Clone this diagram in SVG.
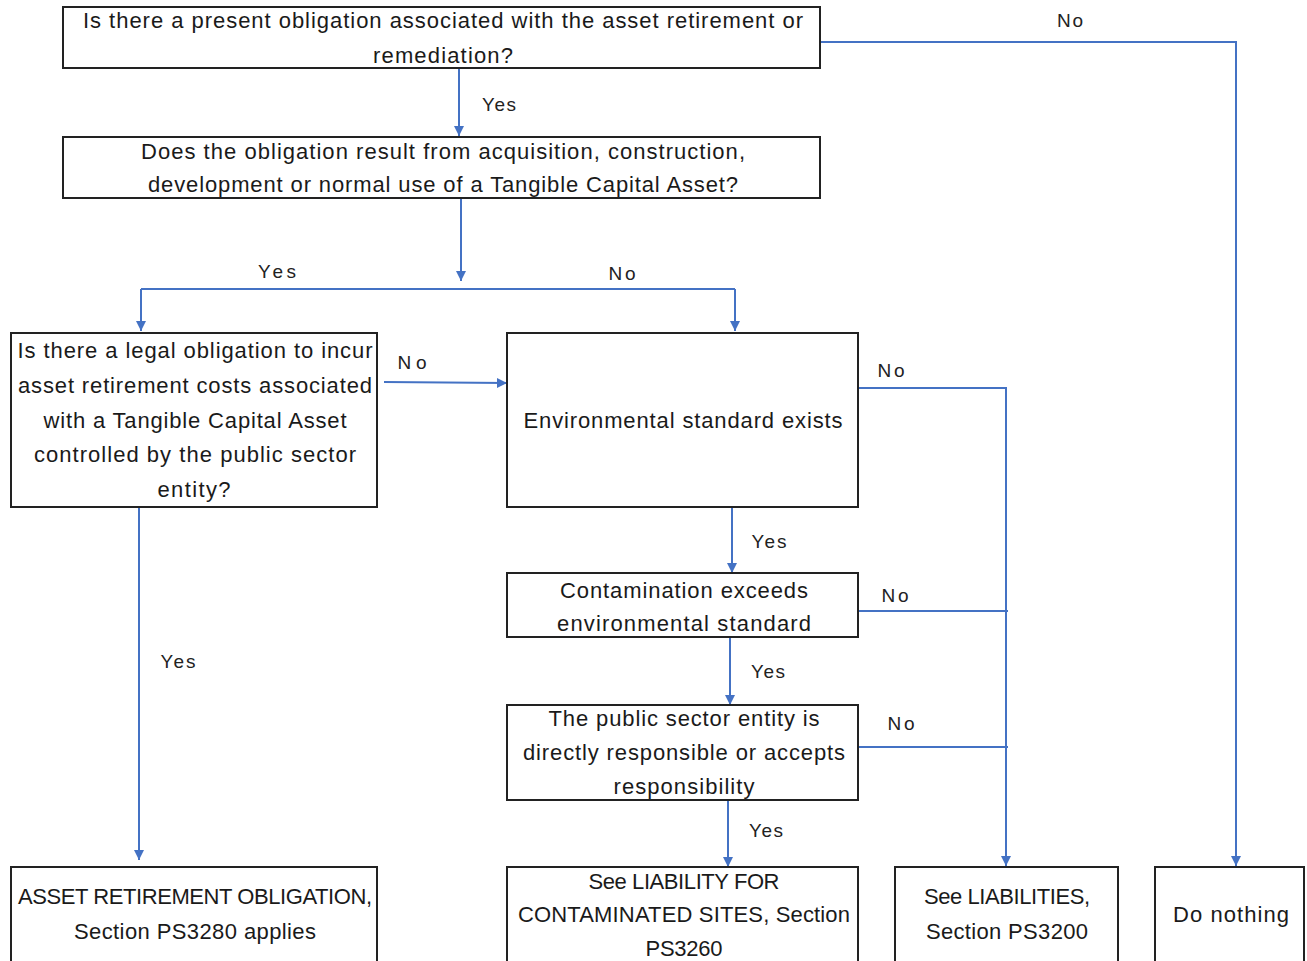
<svg xmlns="http://www.w3.org/2000/svg" width="1307" height="961" viewBox="0 0 1307 961">
<style>
.box{fill:#fff;stroke:#222;stroke-width:2}
.t{font-family:"Liberation Sans",Arial,sans-serif;font-size:22px;fill:#1a1a1a;text-anchor:middle}
.l{font-family:"Liberation Sans",Arial,sans-serif;font-size:19px;fill:#222;text-anchor:middle}
.c{fill:none;stroke:#4472C4;stroke-width:2}
</style>
<defs>
<marker id="ah" viewBox="0 0 10 10" refX="10" refY="5" markerWidth="10" markerHeight="11" orient="auto" markerUnits="userSpaceOnUse">
<path d="M0,0 L10,5 L0,10 z" fill="#4472C4"/>
</marker>
</defs>
<rect width="1307" height="961" fill="#fff"/>
<g id="connectors">
<path class="c" d="M459,68 V136" marker-end="url(#ah)"/>
<path class="c" d="M461,198 V281" marker-end="url(#ah)"/>
<path class="c" d="M141,289 H735"/>
<path class="c" d="M141,289 V331" marker-end="url(#ah)"/>
<path class="c" d="M735,289 V331" marker-end="url(#ah)"/>
<path class="c" d="M384,382 L507,383" marker-end="url(#ah)"/>
<path class="c" d="M858,388 H1006 V866" marker-end="url(#ah)"/>
<path class="c" d="M858,611 H1008"/>
<path class="c" d="M858,747 H1008"/>
<path class="c" d="M732,507 V573" marker-end="url(#ah)"/>
<path class="c" d="M730,637 V705" marker-end="url(#ah)"/>
<path class="c" d="M728,800 V867" marker-end="url(#ah)"/>
<path class="c" d="M139,507 V860" marker-end="url(#ah)"/>
<path class="c" d="M820,42 H1236 V866" marker-end="url(#ah)"/>
<text class="l" x="499" y="111" textLength="34" lengthAdjust="spacing">Yes</text>
<text class="l" x="277" y="278" textLength="38" lengthAdjust="spacing">Yes</text>
<text class="l" x="622" y="280" textLength="27" lengthAdjust="spacing">No</text>
<text class="l" x="412" y="369" textLength="29" lengthAdjust="spacing">No</text>
<text class="l" x="891" y="377" textLength="27" lengthAdjust="spacing">No</text>
<text class="l" x="769" y="548" textLength="35" lengthAdjust="spacing">Yes</text>
<text class="l" x="895" y="602" textLength="27" lengthAdjust="spacing">No</text>
<text class="l" x="768" y="678" textLength="34" lengthAdjust="spacing">Yes</text>
<text class="l" x="901" y="730" textLength="27" lengthAdjust="spacing">No</text>
<text class="l" x="766" y="837" textLength="34" lengthAdjust="spacing">Yes</text>
<text class="l" x="178" y="668" textLength="35" lengthAdjust="spacing">Yes</text>
<text class="l" x="1070" y="27" textLength="26" lengthAdjust="spacing">No</text>
</g>
<g id="n1">
<rect class="box" x="63" y="7" width="757" height="61"/>
<text class="t" x="443" y="28" textLength="720" lengthAdjust="spacing">Is there a present obligation associated with the asset retirement or</text>
<text class="t" x="443" y="63" textLength="140" lengthAdjust="spacing">remediation?</text>
</g>
<g id="n2">
<rect class="box" x="63" y="137" width="757" height="61"/>
<text class="t" x="443" y="159" textLength="604" lengthAdjust="spacing">Does the obligation result from acquisition, construction,</text>
<text class="t" x="443" y="192" textLength="590" lengthAdjust="spacing">development or normal use of a Tangible Capital Asset?</text>
</g>
<g id="n3">
<rect class="box" x="11" y="333" width="366" height="174"/>
<text class="t" x="195" y="358" textLength="355" lengthAdjust="spacing">Is there a legal obligation to incur</text>
<text class="t" x="195" y="393" textLength="354" lengthAdjust="spacing">asset retirement costs associated</text>
<text class="t" x="195" y="428" textLength="303" lengthAdjust="spacing">with a Tangible Capital Asset</text>
<text class="t" x="195" y="462" textLength="322" lengthAdjust="spacing">controlled by the public sector</text>
<text class="t" x="194" y="497" textLength="73" lengthAdjust="spacing">entity?</text>
</g>
<g id="n4">
<rect class="box" x="507" y="333" width="351" height="174"/>
<text class="t" x="683" y="428" textLength="319" lengthAdjust="spacing">Environmental standard exists</text>
</g>
<g id="n5">
<rect class="box" x="507" y="573" width="351" height="64"/>
<text class="t" x="684" y="598" textLength="248" lengthAdjust="spacing">Contamination exceeds</text>
<text class="t" x="684" y="631" textLength="254" lengthAdjust="spacing">environmental standard</text>
</g>
<g id="n6">
<rect class="box" x="507" y="705" width="351" height="95"/>
<text class="t" x="684" y="726" textLength="271" lengthAdjust="spacing">The public sector entity is</text>
<text class="t" x="684" y="760" textLength="322" lengthAdjust="spacing">directly responsible or accepts</text>
<text class="t" x="684" y="794" textLength="141" lengthAdjust="spacing">responsibility</text>
</g>
<g id="n7">
<rect class="box" x="11" y="867" width="366" height="100"/>
<text class="t" x="195" y="904" textLength="354" lengthAdjust="spacing">ASSET RETIREMENT OBLIGATION,</text>
<text class="t" x="195" y="939" textLength="242" lengthAdjust="spacing">Section PS3280 applies</text>
</g>
<g id="n8">
<rect class="box" x="507" y="867" width="351" height="100"/>
<text class="t" x="684" y="889" textLength="191" lengthAdjust="spacing">See LIABILITY FOR</text>
<text class="t" x="684" y="922" textLength="332" lengthAdjust="spacing">CONTAMINATED SITES, Section</text>
<text class="t" x="684" y="956" textLength="77" lengthAdjust="spacing">PS3260</text>
</g>
<g id="n9">
<rect class="box" x="895" y="867" width="223" height="100"/>
<text class="t" x="1007" y="904" textLength="166" lengthAdjust="spacing">See LIABILITIES,</text>
<text class="t" x="1007" y="939" textLength="162" lengthAdjust="spacing">Section PS3200</text>
</g>
<g id="n10">
<rect class="box" x="1155" y="867" width="149" height="100"/>
<text class="t" x="1231" y="922" textLength="116" lengthAdjust="spacing">Do nothing</text>
</g>
</svg>
